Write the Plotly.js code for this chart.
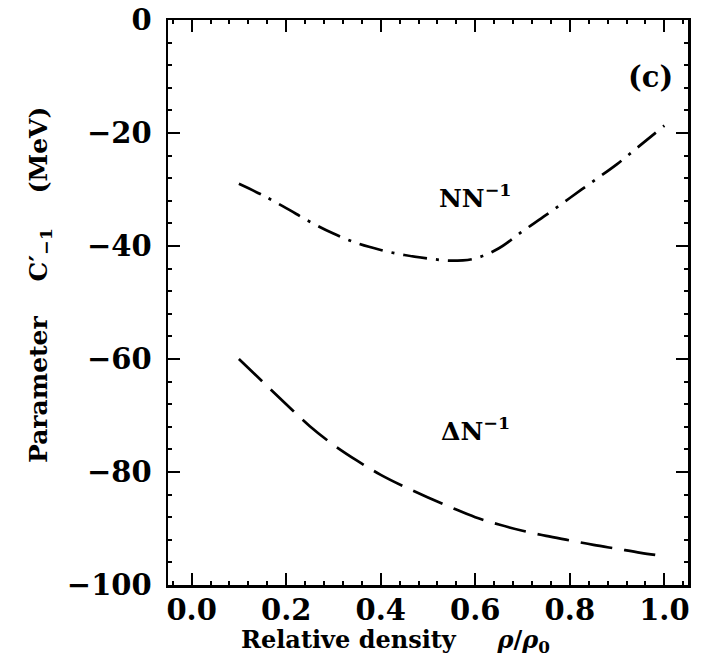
<!DOCTYPE html>
<html>
<head>
<meta charset="utf-8">
<script src="https://cdn.plot.ly/plotly-3.0.1.min.js"></script>
<style>body{margin:0;background:#fff}#chart{width:714px;height:657px}</style>
</head>
<body>
<div id="chart"></div>
<script>
// NN^-1 (dash-dot curve)
const nnX = [0.10,0.15,0.20,0.25,0.30,0.35,0.40,0.45,0.50,0.55,0.60,0.65,0.70,0.75,0.80,0.85,0.90,0.95,1.00];
const nnY = [-29.0,-31.0,-33.3,-35.7,-37.8,-39.5,-40.7,-41.6,-42.2,-42.6,-42.2,-40.4,-37.4,-34.5,-31.5,-28.5,-25.5,-22.1,-18.7];
// ΔN^-1 (dashed curve)
const dnX = [0.10,0.15,0.20,0.25,0.30,0.35,0.40,0.45,0.50,0.55,0.60,0.65,0.70,0.75,0.80,0.85,0.90,0.95,1.00];
const dnY = [-60.0,-64.0,-68.0,-71.9,-75.2,-78.0,-80.5,-82.6,-84.5,-86.3,-88.0,-89.3,-90.4,-91.3,-92.1,-92.9,-93.6,-94.3,-94.9];
const xTicks = [0.0,0.2,0.4,0.6,0.8,1.0];
const xTickText = ["0.0","0.2","0.4","0.6","0.8","1.0"];
const yTicks = [0,-20,-40,-60,-80,-100];
const yTickText = ["0","\u221220","\u221240","\u221260","\u221280","\u2212100"];

const FONT = "DejaVu Serif, Liberation Serif, serif";
const f = (s) => ({family: FONT, size: s, color: '#000', weight: 'bold'});

const traces = [
  {x: nnX, y: nnY, mode: 'lines', line: {color: '#000', width: 2.7, dash: '24px,9px,3px,9px', shape: 'spline'}, hoverinfo: 'skip'},
  {x: dnX, y: dnY, mode: 'lines', line: {color: '#000', width: 2.7, dash: '32px,12px', shape: 'spline'}, hoverinfo: 'skip'}
];

const axisCommon = {
  showgrid: false, zeroline: false, showline: true, linecolor: '#000', linewidth: 2.5,
  mirror: 'allticks', ticks: 'inside', ticklen: 12, tickwidth: 2, tickcolor: '#000',
  tickfont: f(29)
};

const pw = 714 - 168 - 26, ph = 657 - 20 - 72;
const layout = {
  width: 714, height: 657,
  margin: {l: 168, r: 26, t: 20, b: 72},
  paper_bgcolor: '#fff', plot_bgcolor: '#fff',
  showlegend: false,
  xaxis: Object.assign({}, axisCommon, {
    range: [-0.05, 1.05], tickmode: 'array', tickvals: xTicks, ticktext: xTickText,
    ticklabelstandoff: -2,
    minor: {dtick: 0.04, tick0: 0, ticks: 'inside', ticklen: 4, tickwidth: 2, tickcolor: '#000', showgrid: false}
  }),
  yaxis: Object.assign({}, axisCommon, {
    range: [-100, 0], tickmode: 'array', tickvals: yTicks, ticktext: yTickText,
    ticklabelstandoff: 8,
    minor: {dtick: 4, tick0: 0, ticks: 'inside', ticklen: 4, tickwidth: 2, tickcolor: '#000', showgrid: false}
  }),
  annotations: [
    {x: (395 - 168) / pw, y: (657 - 72 - 641) / ph, xref: 'paper', yref: 'paper', xanchor: 'center', yanchor: 'middle',
     text: 'Relative density\u00a0\u00a0\u00a0\u00a0\u00a0<i>\u03c1</i>/<i>\u03c1</i><sub>0</sub>', showarrow: false, font: f(24)},
    {x: (40 - 168) / pw, y: (657 - 72 - 285) / ph, xref: 'paper', yref: 'paper', xanchor: 'center', yanchor: 'middle',
     text: 'Parameter\u00a0\u00a0\u00a0\u00a0C\u2032<sub>\u22121</sub>\u00a0\u00a0\u00a0\u00a0(MeV)', textangle: -90, showarrow: false, font: f(25)},
    {x: 0.97, y: -10, xref: 'x', yref: 'y', text: '(c)', showarrow: false, font: f(29)},
    {x: 0.60, y: -31.3, xref: 'x', yref: 'y', text: 'NN<sup>\u22121</sup>', showarrow: false, font: f(25)},
    {x: 0.60, y: -72.5, xref: 'x', yref: 'y', text: '\u0394N<sup>\u22121</sup>', showarrow: false, font: f(25)}
  ]
};

Plotly.newPlot('chart', traces, layout, {staticPlot: true, displayModeBar: false});
</script>
</body>
</html>
